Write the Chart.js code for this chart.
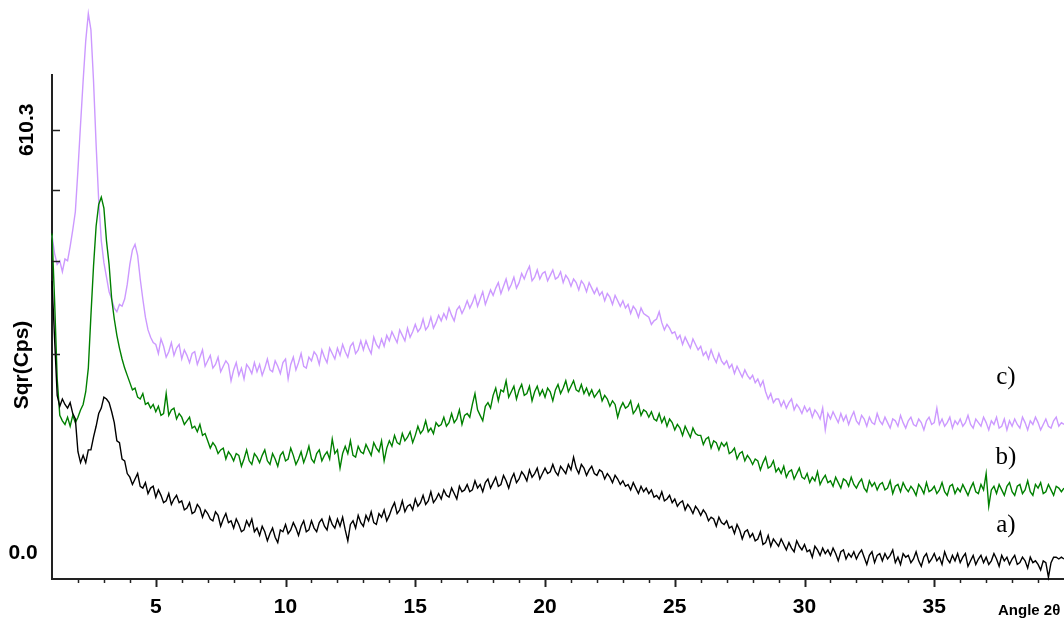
<!DOCTYPE html>
<html><head><meta charset="utf-8">
<script src="https://cdn.jsdelivr.net/npm/chart.js@4.4.0/dist/chart.umd.min.js"></script>
<style>html,body{margin:0;padding:0;background:#fff;overflow:hidden}#wrap{width:1064px;height:619px;position:relative}</style>
</head><body><div id="wrap"><canvas id="c" width="1064" height="619"></canvas></div>
<script>
// 2θ grid: first angle and step (degrees)
const angleStart = 1.0;
const angleStep = 0.1;

// a) black – Sqr(Cps), one row per degree (x.0 … x.9)
const seriesA = [
16.4,13.2,10.1,9.5,9.9,9.6,9.4,9.7,9.1,8.8,
7.0,6.4,6.8,6.4,7.1,7.1,7.8,8.4,9.1,9.4,
10.0,9.9,9.7,9.2,8.6,7.6,7.5,6.6,6.5,5.8,
5.6,5.2,5.5,5.8,5.1,5.0,5.3,4.7,5.0,5.1,
4.5,4.9,4.6,4.2,4.3,4.7,4.1,4.4,4.6,4.2,
4.3,3.8,3.9,4.2,3.6,3.7,4.1,3.9,3.4,3.8,
3.6,3.3,3.2,3.7,3.5,2.9,3.3,3.6,3.1,3.2,
2.8,3.3,3.0,2.6,2.7,3.2,2.9,3.3,2.6,2.8,
2.4,2.9,2.6,2.1,2.5,2.8,2.3,2.0,2.7,2.6,
3.0,2.5,2.7,3.1,2.8,2.4,2.9,3.2,2.6,2.7,
3.2,2.8,2.6,3.1,3.3,2.9,2.7,3.4,3.0,2.8,
3.3,2.9,3.4,2.7,2.1,3.0,3.2,2.8,3.5,3.1,
2.9,3.5,3.2,3.7,3.1,3.0,3.6,3.4,3.8,3.2,
3.5,3.9,4.2,3.6,3.8,4.3,3.7,4.0,4.1,3.8,
4.4,4.0,4.2,4.6,4.1,4.3,4.8,4.2,4.4,4.7,
4.4,4.9,4.6,4.5,5.0,4.7,4.4,5.1,4.8,4.9,
5.2,4.8,4.9,5.4,5.0,5.2,4.8,5.3,5.5,5.0,
5.3,5.6,5.1,5.2,5.7,5.4,5.0,5.5,5.8,5.3,
5.5,5.9,5.7,5.4,6.0,5.6,5.8,6.1,5.5,5.8,
6.1,5.8,5.9,6.3,5.9,5.7,6.2,6.0,5.8,6.3,
6.0,6.7,6.1,5.8,6.3,6.1,5.7,6.0,6.2,5.8,
5.7,6.0,5.9,5.5,5.8,5.6,5.3,5.7,5.5,5.2,
5.4,5.1,5.2,4.9,5.3,5.0,4.7,5.1,4.8,5.0,
4.7,4.9,4.5,4.6,4.4,4.8,4.3,4.4,4.6,4.2,
4.4,4.0,4.2,4.3,3.8,4.1,3.9,3.6,4.0,3.8,
3.5,3.8,3.6,3.2,3.4,3.3,2.9,3.4,3.1,3.0,
3.2,2.8,2.9,2.5,3.0,2.7,2.2,2.6,2.7,2.3,
2.5,2.1,2.2,2.6,1.9,2.0,2.4,1.8,2.2,2.0,
1.8,2.2,1.9,1.6,2.0,1.7,1.5,2.1,1.8,1.6,
1.9,1.5,1.6,1.2,1.8,1.6,1.3,1.7,1.4,1.6,
1.3,1.7,1.4,1.0,1.5,1.6,1.1,1.4,1.2,1.5,
1.1,1.4,1.6,1.2,0.8,1.3,1.5,0.9,1.3,1.4,
1.0,1.4,1.1,1.3,1.6,0.9,1.2,0.8,1.4,1.2,
1.3,0.9,1.1,1.5,1.0,0.7,1.2,1.4,0.9,1.1,
1.4,1.0,1.2,0.8,1.5,1.1,0.9,1.3,1.0,1.4,
0.9,1.2,1.4,0.7,1.0,1.3,0.8,1.1,1.3,0.9,
1.2,0.8,1.0,1.4,1.1,0.7,1.3,1.0,1.2,0.8,
1.1,1.3,0.8,0.9,1.2,1.0,0.6,1.2,0.9,1.0,
0.8,0.5,1.0,0.9,0.1,0.9,1.2,1.2,1.1,1.2,
1.1
];

// b) green
const seriesB = [
19.0,15.3,11.0,9.0,8.7,8.5,8.9,8.4,9.0,8.6,
8.9,9.3,9.6,10.3,11.6,14.5,17.2,19.4,20.6,21.0,
20.4,18.6,17.3,15.4,14.3,13.4,12.7,12.1,11.6,11.2,
10.8,10.4,10.5,10.0,9.9,10.2,9.6,9.7,9.4,9.6,
9.2,9.5,9.0,9.1,10.2,9.0,9.3,9.4,8.8,9.1,
8.9,8.5,8.7,8.9,8.3,8.4,8.1,8.5,7.9,8.0,
7.6,7.2,7.5,7.3,6.9,7.1,7.2,6.6,7.0,6.8,
6.5,6.9,6.8,6.2,6.6,7.1,6.5,6.3,6.9,6.7,
6.4,6.8,7.1,6.5,6.3,6.9,6.6,6.2,6.8,7.0,
6.5,6.6,7.2,6.8,6.3,6.6,7.0,6.4,6.8,7.3,
6.6,6.4,6.9,7.1,6.5,6.8,7.0,6.6,7.7,6.9,
7.1,6.1,6.9,7.3,6.9,7.6,6.8,6.7,7.3,7.0,
6.9,7.4,7.1,6.8,7.5,7.2,7.0,7.6,6.5,7.2,
7.6,7.3,7.9,7.5,7.4,8.0,7.6,7.8,8.1,7.5,
7.9,8.4,8.0,8.2,8.7,8.1,8.3,8.0,8.6,8.4,
8.5,8.9,8.4,8.6,9.1,8.6,8.8,9.3,8.5,9.0,
9.1,8.9,9.6,10.2,9.3,9.0,8.7,9.5,9.7,9.4,
10.1,10.5,9.8,10.4,10.3,10.9,10.0,10.3,10.6,9.9,
10.4,10.7,10.1,10.2,10.6,9.8,10.3,10.6,10.1,10.4,
10.0,10.5,10.3,9.8,10.4,10.7,10.2,10.5,10.9,10.3,
10.6,10.9,10.4,10.3,10.7,10.2,10.5,10.1,10.4,10.0,
10.2,10.4,9.8,10.1,9.9,9.5,9.8,9.6,8.9,9.4,
9.7,9.4,9.5,9.8,9.1,9.3,9.6,9.0,9.3,9.2,
8.9,9.2,8.8,8.7,9.1,8.6,8.9,8.4,8.8,8.6,
8.2,8.5,8.3,7.9,8.4,8.1,7.8,8.3,8.0,7.9,
7.9,7.4,7.7,7.8,7.2,7.6,7.5,7.1,7.5,7.3,
7.5,6.9,7.0,7.2,6.6,6.9,7.0,6.5,6.8,6.6,
6.3,6.6,6.5,6.0,6.4,6.7,6.1,6.2,6.5,5.9,
6.1,5.8,6.2,5.6,5.9,6.0,5.5,5.8,6.1,5.6,
5.5,5.8,5.3,5.6,5.4,5.9,5.2,5.5,5.7,5.3,
5.4,5.1,5.6,5.3,5.0,5.5,5.4,5.1,5.6,5.2,
5.0,5.3,5.5,5.0,4.8,5.4,5.1,5.3,4.9,5.2,
5.3,4.9,5.0,5.4,4.7,5.1,5.2,4.8,5.3,5.0,
4.8,5.1,4.9,4.6,5.2,5.0,4.7,5.3,4.8,4.9,
5.1,4.7,4.9,5.3,4.8,4.6,5.1,5.2,4.7,5.0,
4.8,5.2,4.9,4.6,5.0,5.3,4.8,4.7,5.2,4.9,
5.8,4.0,4.9,5.1,4.7,5.2,4.9,4.6,5.1,5.3,
4.8,4.6,5.1,5.2,4.7,4.9,5.4,4.8,4.6,5.2,
5.0,5.3,4.7,4.8,5.2,4.9,4.6,5.1,5.0,4.8,
5.0
];

// c) violet
const seriesC = [
18.9,17.9,17.3,17.5,16.9,17.6,17.5,18.3,19.2,20.2,
22.5,25.0,27.4,29.6,31.1,30.2,27.4,23.9,20.8,18.6,
17.4,16.6,15.8,15.4,14.9,14.7,15.1,15.0,15.4,16.2,
17.3,18.1,18.4,17.8,16.5,15.4,14.4,13.7,13.3,13.0,
12.9,12.4,13.2,12.8,12.2,12.5,13.0,12.3,12.7,12.9,
12.1,12.6,12.3,11.9,12.4,12.5,11.8,12.2,12.6,11.7,
12.0,12.3,11.6,11.8,12.2,11.4,11.7,12.0,11.8,10.9,
11.5,11.9,11.2,11.6,11.0,11.8,11.6,11.3,11.9,11.4,
11.8,11.2,11.6,12.1,11.5,11.4,12.0,11.7,11.3,11.9,
12.1,11.0,11.8,12.2,11.5,11.9,12.4,11.7,11.6,12.2,
12.0,12.5,12.3,11.8,12.6,12.2,11.9,12.7,12.4,12.1,
12.7,12.3,12.9,12.5,12.2,12.8,13.0,12.4,12.6,13.1,
12.6,13.1,12.7,12.4,13.3,12.9,12.7,13.2,12.8,13.4,
13.1,13.6,13.3,13.0,13.7,13.4,13.1,13.8,13.3,13.6,
14.0,13.6,13.8,14.3,13.7,13.9,14.4,13.8,14.1,14.5,
14.2,14.6,14.3,14.9,14.5,14.2,14.8,15.0,14.6,14.9,
15.3,14.9,15.2,15.6,15.0,15.4,15.8,15.1,15.5,15.9,
15.6,16.0,16.3,15.7,16.1,16.5,15.9,16.2,16.6,16.0,
16.3,16.8,16.5,16.9,17.2,16.4,16.6,17.0,16.5,16.8,
16.9,16.4,16.7,17.0,16.5,16.6,16.9,16.3,16.7,16.5,
16.1,16.5,16.3,15.9,16.4,16.2,15.8,16.3,16.0,15.7,
16.0,15.6,15.8,15.3,15.7,15.5,15.1,15.6,15.3,15.0,
15.3,14.9,15.1,14.6,15.0,14.8,14.4,14.9,14.6,14.5,
14.4,14.0,14.2,14.3,14.7,14.1,13.7,14.0,13.8,13.5,
13.6,13.2,13.4,12.9,13.3,13.0,12.7,13.2,12.9,12.6,
12.8,12.3,12.5,12.1,12.6,12.2,11.9,12.4,12.0,11.8,
12.0,11.6,11.8,11.3,11.7,11.4,11.1,11.5,11.2,11.0,
11.2,10.8,11.0,10.6,10.9,10.3,9.9,10.2,9.7,9.9,
9.9,9.5,9.8,9.4,9.7,9.9,9.3,9.6,9.4,9.1,
9.5,9.2,9.4,8.9,9.3,9.1,8.8,9.4,8.2,9.1,
8.8,9.2,8.9,8.6,9.1,8.7,9.0,8.5,8.9,9.2,
8.7,8.5,9.0,8.8,8.4,8.9,8.6,8.5,9.1,8.7,
8.5,8.9,8.6,8.3,8.8,8.7,8.4,9.0,8.6,8.3,
8.7,8.9,8.5,8.4,8.8,8.6,8.2,8.7,8.9,8.5,
8.6,9.4,8.5,8.8,8.4,8.6,8.9,8.3,8.7,8.5,
8.8,8.4,8.6,9.0,8.5,8.3,8.8,8.6,8.4,8.9,
8.6,8.2,8.7,8.5,8.9,8.3,8.4,8.8,8.2,8.7,
8.4,8.8,8.5,8.3,8.9,8.6,8.2,8.7,8.5,8.9,
8.6,8.2,8.5,8.8,8.4,8.3,8.7,8.9,8.4,8.6,
8.5
];

const seriesNames = ['a)', 'b)', 'c)'];
const seriesColors = ['#000000', '#008000', '#cc99ff'];
const xMajorTicks = [5, 10, 15, 20, 25, 30, 35];
const xMinorTicks = [2,3,4,6,7,8,9,11,12,13,14,16,17,18,19,21,22,23,24,26,27,28,29,31,32,33,34,36,37,38,39];
const yTickCps = [0, 152.6, 305.2, 457.7, 610.3];
const yTickLabels = ['0.0', '', '', '', '610.3'];
const xTitle = 'Angle 2\u03b8';
const yTitle = 'Sqr(Cps)';

function toPoints(arr) {
  return arr.map((v, i) => ({ x: Math.round((angleStart + i * angleStep) * 100) / 100, y: v }));
}

const decor = {
  id: 'decor',
  afterDraw(chart) {
    const ctx = chart.ctx, xs = chart.scales.x, ys = chart.scales.y;
    const ca = chart.chartArea;
    ctx.save();
    ctx.strokeStyle = '#222';
    xMajorTicks.forEach(t => {
      const px = Math.round(xs.getPixelForValue(t)) + 0.5;
      ctx.lineWidth = 2;
      ctx.beginPath(); ctx.moveTo(px, ca.bottom); ctx.lineTo(px, ca.bottom + 8); ctx.stroke();
    });
    xMinorTicks.forEach(t => {
      const px = Math.round(xs.getPixelForValue(t)) + 0.5;
      ctx.lineWidth = 1.5;
      ctx.beginPath(); ctx.moveTo(px, ca.bottom); ctx.lineTo(px, ca.bottom + 4); ctx.stroke();
    });
    yTickCps.forEach(v => {
      if (v === 0) return;
      const py = Math.round(ys.getPixelForValue(Math.sqrt(v))) + 0.5;
      ctx.lineWidth = 1.5;
      ctx.beginPath(); ctx.moveTo(ca.left, py); ctx.lineTo(ca.left + 8, py); ctx.stroke();
    });
    ctx.fillStyle = '#000';
    ctx.font = 'bold 21px "Liberation Sans", Arial, sans-serif';
    ctx.textAlign = 'center'; ctx.textBaseline = 'middle';
    xMajorTicks.forEach(t => ctx.fillText(String(t), xs.getPixelForValue(t), ca.bottom + 28));
    ctx.font = 'bold 15px "Liberation Sans", Arial, sans-serif';
    ctx.textAlign = 'left';
    ctx.fillText(xTitle, 998, ca.bottom + 32);
    ctx.font = 'bold 21px "Liberation Sans", Arial, sans-serif';
    ctx.textAlign = 'center';
    ctx.fillText(yTickLabels[0], 23, ys.getPixelForValue(0) - 26);
    ctx.save();
    ctx.translate(27, ys.getPixelForValue(Math.sqrt(yTickCps[4])));
    ctx.rotate(-Math.PI / 2);
    ctx.fillText(yTickLabels[4], 0, 0);
    ctx.restore();
    ctx.save();
    ctx.translate(22, 365);
    ctx.rotate(-Math.PI / 2);
    ctx.fillText(yTitle, 0, 0);
    ctx.restore();
    ctx.font = '25px "Liberation Serif", "DejaVu Serif", serif';
    ctx.textAlign = 'center';
    const labelY = [2.97, 6.66, 11.06];
    seriesNames.forEach((n, i) => ctx.fillText(n, xs.getPixelForValue(37.76), ys.getPixelForValue(labelY[i])));
    ctx.restore();
  }
};

new Chart(document.getElementById('c'), {
  type: 'line',
  data: {
    datasets: [seriesA, seriesB, seriesC].map((arr, i) => ({
      label: seriesNames[i],
      data: toPoints(arr),
      borderColor: seriesColors[i],
      borderWidth: 1.4,
      pointRadius: 0,
      tension: 0,
      fill: false,
      clip: false
    }))
  },
  options: {
    responsive: false,
    animation: false,
    events: [],
    layout: { padding: { top: 75, left: 0, right: 0, bottom: 0 } },
    plugins: { legend: { display: false }, tooltip: { enabled: false } },
    scales: {
      x: {
        type: 'linear', min: 1, max: 40,
        grid: { display: false },
        border: { display: true, color: '#222', width: 2 },
        ticks: { display: false },
        afterFit(s) { s.height = 40; }
      },
      y: {
        type: 'linear', min: 0, max: 27.72,
        grid: { display: false },
        border: { display: true, color: '#222', width: 2 },
        ticks: { display: false },
        afterFit(s) { s.width = 52; }
      }
    }
  },
  plugins: [decor]
});
</script>
</body></html>
